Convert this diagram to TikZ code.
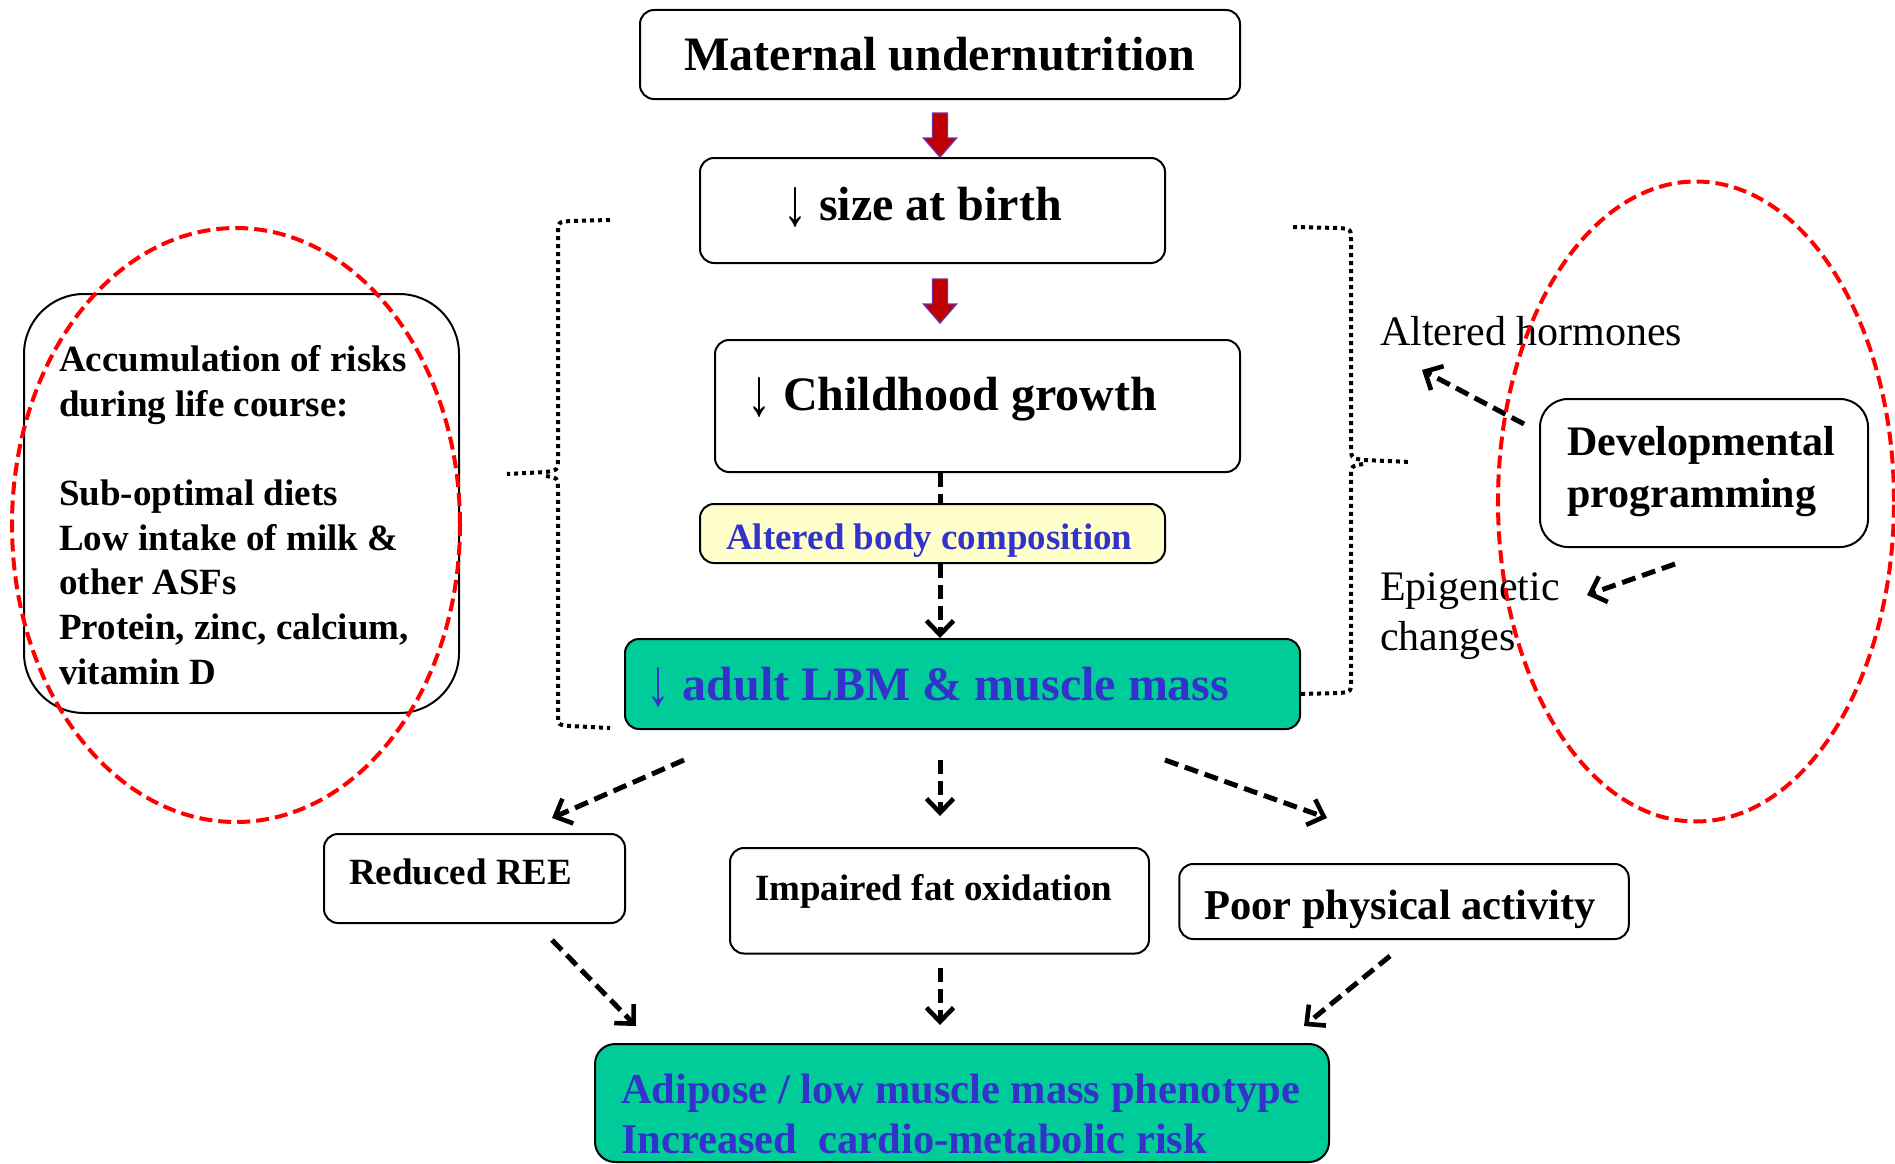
\documentclass[tikz,border=0pt]{standalone}
\usepackage{fontspec}
\setmainfont{Liberation Serif}
\usetikzlibrary{arrows.meta,calc}
\definecolor{ablue}{RGB}{51,51,204}
\definecolor{agreen}{RGB}{0,204,153}
\definecolor{ayellow}{RGB}{255,255,204}
\definecolor{arrred}{RGB}{192,0,0}
\definecolor{arrpurp}{RGB}{112,48,160}
\newcommand\dnarr{{\mdseries\raisebox{-0.12em}{\scalebox{1}[1.4]{↓}}}}
\begin{document}
\begin{tikzpicture}[x=1pt,y=-1pt,
  box/.style={draw=black,line width=2pt,rounded corners=14pt,inner sep=0pt},
  txt/.style={inner sep=0pt},
  fA/.style={font=\fontsize{48}{56}\selectfont\bfseries},
  fB/.style={font=\fontsize{37}{44.7}\selectfont\bfseries},
  fC/.style={font=\fontsize{42}{52}\selectfont\bfseries},
  fD/.style={font=\fontsize{42.5}{50}\selectfont\bfseries},
  fR/.style={font=\fontsize{42}{50}\selectfont},
  dsh/.style={line width=5pt,dash pattern=on 14pt off 7pt},
  darr/.style={dsh,-{Straight Barb[length=14pt,width=27pt,line width=4.6pt]}},
  dotline/.style={line width=4pt,dash pattern=on 4pt off 4pt},
  redell/.style={draw=red,line width=4pt,dash pattern=on 13pt off 6pt},
  redarr/.style={fill=arrred,draw=arrpurp,line width=1.4pt}]
\useasboundingbox (0,0) rectangle (1895,1164);

% main column
\node[box,minimum width=600pt,minimum height=89pt,fA] (mat) at (940,54.5) {Maternal undernutrition};
\node[box,minimum width=465pt,minimum height=105pt] (sab) at (932.5,210.5) {};
\node[txt,fA,anchor=base west] (sabt) at (783,220) {\dnarr{} size at birth};
\node[box,minimum width=525pt,minimum height=132pt] (chg) at (977.5,406) {};
\node[txt,fA,anchor=base west] (chgt) at (747,410) {\dnarr{} Childhood growth};
\node[box,fill=ayellow,minimum width=465pt,minimum height=59pt] (alt) at (932.5,533.5) {};
\node[txt,fB,text=ablue,anchor=base west] (altt) at (726,549) {Altered body composition};
\node[box,fill=agreen,minimum width=675pt,minimum height=90pt] (lbm) at (962.5,684) {};
\node[txt,fA,text=ablue,anchor=base west] (lbmt) at (646.5,700) {\dnarr{} adult LBM \& muscle mass};

% left box
\node[box,rounded corners=60pt,minimum width=435pt,minimum height=419pt] (lft) at (241.5,503.5) {};
\node[txt,fB,align=left,anchor=west] (lftt) at (59,515) {Accumulation of risks\\during life course:\\[44.7pt]Sub-optimal diets\\Low intake of milk \&\\other ASFs\\Protein, zinc, calcium,\\vitamin D};

% right side
\node[box,rounded corners=28pt,minimum width=328pt,minimum height=148pt] (dev) at (1704,473) {};
\node[txt,fC,align=left,anchor=west] (devt) at (1567,472) {Developmental\\programming};
\node[txt,fR,anchor=base west] (hor) at (1380,345) {Altered hormones};
\node[txt,fR,align=left,anchor=west] (epi) at (1380,616) {Epigenetic\\changes};

% lower boxes
\node[box,minimum width=301pt,minimum height=89pt] (ree) at (474.5,878.5) {};
\node[txt,fB,anchor=base west] (reet) at (349,884) {Reduced REE};
\node[box,minimum width=419pt,minimum height=105.5pt] (imp) at (939.5,900.75) {};
\node[txt,fB,anchor=base west] (impt) at (755,900) {Impaired fat oxidation};
\node[box,minimum width=449.5pt,minimum height=75pt] (poor) at (1404,901.5) {};
\node[txt,fD,anchor=base west] (poort) at (1204,919) {Poor physical activity};
\node[box,rounded corners=20pt,fill=agreen,minimum width=734pt,minimum height=118pt] (bot) at (962,1103) {};
\node[txt,fD,text=ablue,align=left,anchor=west] (bott) at (621,1114) {Adipose / low muscle mass phenotype\\Increased\ \ cardio-metabolic risk};

% red arrows
\coordinate (r1t) at ($(mat.south)+(0,13)$);
\coordinate (r1h) at (mat.south |- sab.north);
\filldraw[redarr] ([shift={(-7.5,0)}]r1t) -- ([shift={(7.5,0)}]r1t) -- ([shift={(7.5,-19)}]r1h) -- ([shift={(16.5,-19)}]r1h) -- (r1h) -- ([shift={(-16.5,-19)}]r1h) -- ([shift={(-7.5,-19)}]r1h) -- cycle;
\coordinate (r2t) at ($(mat.south |- sab.south)+(0,15)$);
\coordinate (r2h) at ($(mat.south |- chg.north)+(0,-16)$);
\filldraw[redarr] ([shift={(-7.5,0)}]r2t) -- ([shift={(7.5,0)}]r2t) -- ([shift={(7.5,-19)}]r2h) -- ([shift={(16.5,-19)}]r2h) -- (r2h) -- ([shift={(-16.5,-19)}]r2h) -- ([shift={(-7.5,-19)}]r2h) -- cycle;

% dashed connectors
\draw[dsh] (chg.south -| mat.south) -- (alt.north -| mat.south);
\draw[darr] (alt.south -| mat.south) -- (lbm.north -| mat.south);
\draw[darr] ([shift={(60,30)}]lbm.south west) -- ([shift={(77.5,-15)}]ree.north);
\draw[darr] ($(lbm.south -| mat.south)+(0,30)$) -- ($(imp.north -| mat.south)+(0,-31)$);
\draw[darr] ([shift={(-136,30)}]lbm.south east) -- ([shift={(-77,-45)}]poor.north);
\draw[darr] ([shift={(77.5,16)}]ree.south) -- ([shift={(42,-17)}]bot.north west);
\draw[darr] ($(imp.south -| mat.south)+(0,13.5)$) -- ($(bot.north -| mat.south)+(0,-18)$);
\draw[darr] ([shift={(-14,16)}]poor.south) -- ([shift={(-26,-17)}]bot.north east);
\draw[darr] ([shift={(-15,26)}]dev.north west) -- ([shift={(42,25)}]hor.base west);
\draw[darr] ([shift={(-29,16)}]dev.south) -- ([shift={(207,-21)}]epi.west);

% dotted brackets
\draw[dotline] (610,220) -- (570,221) .. controls (558,222) .. (558,234) -- (558,458) .. controls (558,470) .. (546,472) -- (507,474);
\draw[dotline] (546,476) .. controls (558,478) .. (558,490) -- (558,713) .. controls (558,725) .. (570,726) -- (610,728);
\draw[dotline] (1293,227) -- (1339,228) .. controls (1351,229) .. (1351,241) -- (1351,446) .. controls (1351,458) .. (1363,460) -- (1411,462);
\draw[dotline] (1363,464) .. controls (1351,466) .. (1351,478) -- (1351,680) .. controls (1351,692) .. (1339,693) -- (1300,694);

% red dashed ellipses
\draw[redell] (236,525) ellipse [x radius=224pt, y radius=297pt];
\draw[redell] (1696,501.5) ellipse [x radius=198pt, y radius=320pt];
\end{tikzpicture}
\end{document}
